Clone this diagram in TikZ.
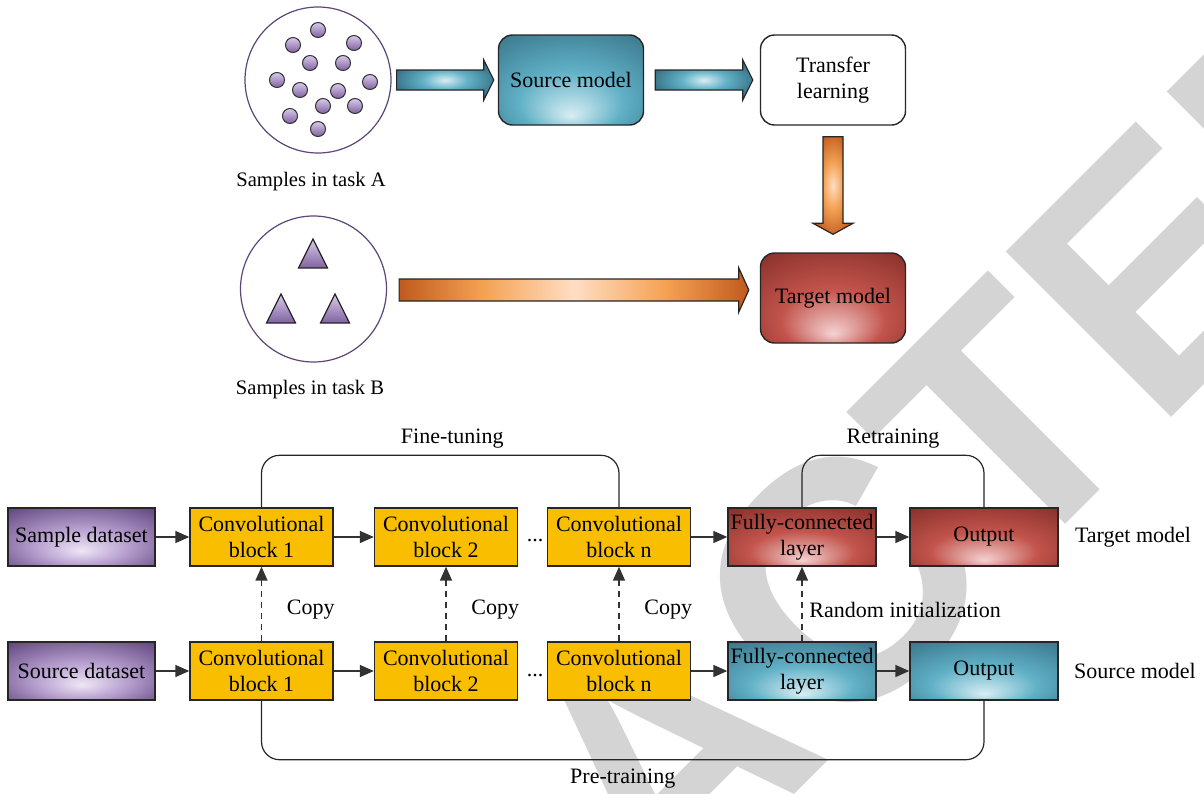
\documentclass[tikz,border=0pt]{standalone}
\usepackage{fontspec}
\setmainfont{Liberation Serif}
\newfontfamily\wmfont{Liberation Sans}
\usepackage{tikz}
\usetikzlibrary{calc,arrows.meta}

\definecolor{tealD}{RGB}{52,110,130}
\definecolor{tealM}{RGB}{96,176,198}
\definecolor{tealL}{RGB}{216,238,244}
\definecolor{redD}{RGB}{128,42,38}
\definecolor{redM}{RGB}{194,84,76}
\definecolor{redL}{RGB}{244,210,210}
\definecolor{purD}{RGB}{102,76,132}
\definecolor{purM}{RGB}{182,158,206}
\definecolor{purL}{RGB}{238,230,246}
\definecolor{purT}{RGB}{216,202,234}
\definecolor{purB}{RGB}{128,98,160}
\definecolor{orD}{RGB}{192,90,30}
\definecolor{orM}{RGB}{244,162,84}
\definecolor{orL}{RGB}{255,222,196}
\definecolor{convY}{RGB}{249,190,0}
\definecolor{ringP}{RGB}{92,70,120}
\definecolor{wmark}{RGB}{212,212,212}
\definecolor{lineG}{RGB}{50,50,50}

\pgfdeclareradialshading[tealL,tealM,tealD]{tealglow}{\pgfpoint{0bp}{-20bp}}{color(0bp)=(tealL); color(18bp)=(tealM); color(42bp)=(tealD); color(50bp)=(tealD)}
\pgfdeclareradialshading[redL,redM,redD]{redglow}{\pgfpoint{0bp}{-20bp}}{color(0bp)=(redL); color(18bp)=(redM); color(42bp)=(redD); color(50bp)=(redD)}
\pgfdeclareradialshading[purL,purM,purD]{purglow}{\pgfpoint{0bp}{-12bp}}{color(0bp)=(purL); color(16bp)=(purM); color(36bp)=(purD); color(50bp)=(purD)}
\pgfdeclareradialshading[tealL,tealM,tealD]{tealbar}{\pgfpoint{0bp}{0bp}}{color(0bp)=(tealL); color(12bp)=(tealM); color(28bp)=(tealD); color(50bp)=(tealD)}
\pgfdeclareradialshading[orL,orM,orD]{orbarv}{\pgfpoint{0bp}{0bp}}{color(0bp)=(orL); color(12bp)=(orM); color(28bp)=(orD); color(50bp)=(orD)}
\pgfdeclarehorizontalshading[orL,orM,orD]{orbarh}{100bp}{color(0bp)=(orD); color(25bp)=(orD); color(37bp)=(orM); color(50bp)=(orL); color(63bp)=(orM); color(75bp)=(orD); color(100bp)=(orD)}

\newcommand\fatright[5]{%
  \draw[#1] ($(#2)+(0,-#4)$) -- ($(#3)+(-10,-#4)$) -- ($(#3)+(-10,-#5)$) -- (#3)
    -- ($(#3)+(-10,#5)$) -- ($(#3)+(-10,#4)$) -- ($(#2)+(0,#4)$) -- cycle;}
\newcommand\fatdown[5]{%
  \draw[#1] ($(#2)+(-#4,0)$) -- ($(#3)+(-#4,-11)$) -- ($(#3)+(-#5,-11)$) -- (#3)
    -- ($(#3)+(#5,-11)$) -- ($(#3)+(#4,-11)$) -- ($(#2)+(#4,0)$) -- cycle;}

\begin{document}
\begin{tikzpicture}[x=0.5pt,y=-0.5pt,font=\fontsize{11}{13}\selectfont,
    box/.style={rectangle,draw=black!85,line width=0.7pt,minimum height=29pt,align=center,inner sep=1pt},
    conv/.style={box,fill=convY,minimum width=71.5pt},
    redbox/.style={box,shade,shading=redglow,minimum width=74pt},
    tealbox/.style={box,shade,shading=tealglow,minimum width=74pt},
    databox/.style={box,shade,shading=purglow,minimum width=73.5pt},
    model/.style={rectangle,rounded corners=7pt,draw=black!85,line width=0.7pt,minimum width=72.5pt,minimum height=45pt,align=center},
    ring/.style={circle,draw=ringP,line width=0.6pt,minimum size=73pt,inner sep=0pt},
    dot/.style={circle,draw=black!80,line width=0.5pt,top color=purT,bottom color=purB,minimum size=7.5pt,inner sep=0pt},
    tri/.style={draw=black!85,line width=0.6pt,top color=purT,bottom color=purB},
    lbl/.style={font=\fontsize{10.3}{12}\selectfont},
    conn/.style={draw=lineG,line width=0.8pt,-{Triangle[length=7pt,width=6pt]}},
    copyline/.style={conn,dash pattern=on 3pt off 2.5pt},
    loopline/.style={draw=black!85,line width=0.6pt,rounded corners=9pt},
    fat/.style={draw=black!85,line width=0.6pt,shade}]
  \useasboundingbox (0,0) rectangle (1204,793);
  \begin{scope}
    \clip (0,0) rectangle (1204,793);
    \node (wm) at (666,758) [rotate=45,text=wmark,font=\wmfont\bfseries\fontsize{170}{170}\selectfont,inner sep=0pt] {RETRACTED};
  \end{scope}

  \node (circA) at (318,80) [ring] {};
  \foreach \x/\y [count=\i] in {318/30,293/45,354/43,310/63,343/63,277/80,370/82,300/90,338/91,323/106,355/106,290/116,318/129}
    \node (dot\i) at (\x,\y) [dot] {};
  \node (labA) at (311,182) [lbl] {Samples in task A};
  \node (circB) at (313.5,289) [ring] {};
  \foreach \x/\y in {313/239,281/294,335/294}
    \draw[tri] (\x,\y) -- ++(14.5,29) -- ++(-29,0) -- cycle;
  \node (labB) at (310,390) [lbl] {Samples in task B};

  \node (srcM) at (571,80) [model,shade,shading=tealglow] {Source model};
  \node (trans) at (833,80) [model,fill=white] {Transfer \\ learning};
  \node (tgtM) at (833,298) [model,shade,shading=redglow] {Target model};

  \coordinate (a1) at ($(circA.east)+(5,0)$);
  \coordinate (a2) at ($(srcM.west)+(-4,0)$);
  \coordinate (b1) at ($(srcM.east)+(11,0)$);
  \coordinate (b2) at ($(trans.west)+(-7,0)$);
  \coordinate (c1) at ($(trans.south)+(0,11)$);
  \coordinate (c2) at ($(tgtM.north)+(0,-18)$);
  \coordinate (e1) at ($(circB.east)+(12,1)$);
  \coordinate (e2) at ($(tgtM.west |- e1)+(-11,0)$);
  \fatright{fat,shading=tealbar}{a1}{a2}{10}{20}
  \fatright{fat,shading=tealbar}{b1}{b2}{10}{20}
  \fatdown{fat,shading=orbarv}{c1}{c2}{10}{20}
  \fatright{fat,shading=orbarh}{e1}{e2}{11}{22}

  \node (sample) at (81.5,537) [databox] {Sample dataset};
  \node (c1t) at (261.5,537) [conv] {Convolutional \\ block 1};
  \node (c2t) at (446,537) [conv] {Convolutional \\ block 2};
  \node (dotst) at (535,541) {...};
  \node (cnt) at (619,537) [conv] {Convolutional \\ block n};
  \node (fct) at (802,537) [redbox] {Fully-connected \\ layer};
  \node (outt) at (984,537) [redbox] {Output};
  \node (tgtL) at (1133,537) {Target model};

  \node (source) at (81.5,671) [databox] {Source dataset};
  \node (c1s) at (261.5,671) [conv] {Convolutional \\ block 1};
  \node (c2s) at (446,671) [conv] {Convolutional \\ block 2};
  \node (dotss) at (535,675) {...};
  \node (cns) at (619,671) [conv] {Convolutional \\ block n};
  \node (fcs) at (802,671) [tealbox] {Fully-connected \\ layer};
  \node (outs) at (984,671) [tealbox] {Output};
  \node (srcL) at (1135,671) {Source model};

  \draw[conn] (sample) -- (c1t);
  \draw[conn] (c1t) -- (c2t);
  \draw[conn] (cnt) -- (fct);
  \draw[conn] (fct) -- (outt);
  \draw[conn] (source) -- (c1s);
  \draw[conn] (c1s) -- (c2s);
  \draw[conn] (cns) -- (fcs);
  \draw[conn] (fcs) -- (outs);

  \draw[copyline] (c1s) -- (c1t) node [midway,right=9pt,yshift=-3pt] {Copy};
  \draw[copyline] (c2s) -- (c2t) node [midway,right=9pt,yshift=-3pt] {Copy};
  \draw[copyline] (cns) -- (cnt) node [midway,right=9pt,yshift=-3pt] {Copy};
  \draw[copyline] (fcs) -- (fct) node [midway,right=0pt,yshift=-3pt] {Random initialization};

  \draw[loopline] (c1t.north) |- ($(cnt.north)+(0,-52)$) node [pos=0.75,above,xshift=6pt] {Fine-tuning} -- (cnt.north);
  \draw[loopline] (fct.north) |- ($(outt.north)+(0,-52)$) node [pos=0.75,above] {Retraining} -- (outt.north);
  \draw[loopline] (c1s.south) |- ($(outs.south)+(0,59)$) node [pos=0.75,below,yshift=-1pt] {Pre-training} -- (outs.south);
\end{tikzpicture}
\end{document}
